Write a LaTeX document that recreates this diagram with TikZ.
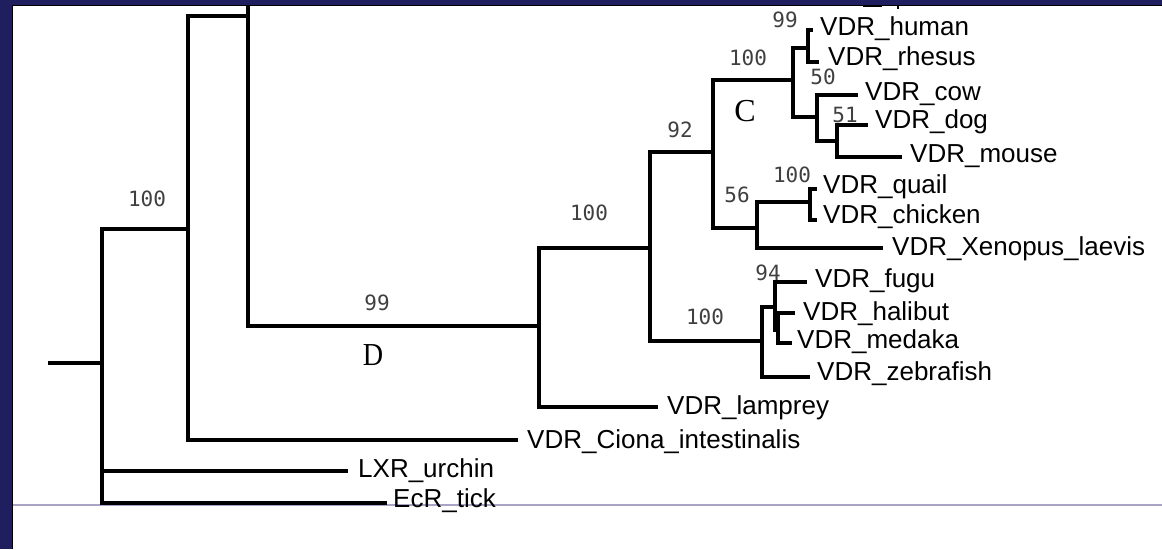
\documentclass[tikz,border=0pt]{standalone}
\usepackage{fontspec}
\setmainfont{Liberation Sans}
\newfontfamily\monofnt{DejaVu Sans Mono}
\newfontfamily\seriffnt{Liberation Serif}
\definecolor{navy}{HTML}{1F1E5E}
\definecolor{rulegrey}{HTML}{A9A3C6}
\tikzset{
  br/.style={line width=3.2pt, line join=miter, line cap=butt},
  leaf/.style={anchor=base west, inner sep=0pt, font=\fontsize{26}{30}\selectfont},
  boot/.style={anchor=center, inner sep=0pt, text=black!75, font=\monofnt\fontsize{21}{24}\selectfont},
  clade/.style={anchor=center, inner sep=0pt, font=\seriffnt\fontsize{32}{35}\selectfont},
}
\begin{document}
\begin{tikzpicture}[x=1pt,y=-1pt]
\useasboundingbox (0,0) rectangle (1162,549);
\fill[white] (0,0) rectangle (1162,549);
% frame
\fill[navy] (0,0) rectangle (12,549);
\fill[navy] (0,0) rectangle (1162,5);
\draw[black, line width=1pt] (12.5,5) -- (12.5,549);
\draw[black, line width=1pt] (12,5.5) -- (1162,5.5);
\draw[rulegrey, line width=1.2pt] (13,505) -- (1162,505);

% coordinates (x = branch position, y = incoming horizontal)
\coordinate (root) at (48,363);
\coordinate (n1) at (102,363);
\coordinate (n2) at (188,229);
\coordinate (lxr) at (348,471);
\coordinate (ecr) at (387,503);
\coordinate (n3) at (248,16);
\coordinate (n3top) at (248,5);
\coordinate (ciona) at (518,440);
\coordinate (n4) at (539,326);
\coordinate (n5) at (650,248);
\coordinate (lamprey) at (658,407);
\coordinate (n6) at (713,152);
\coordinate (n13) at (762,341);
\coordinate (n7) at (793,80);
\coordinate (n11) at (757,228);
\coordinate (n8) at (808,48);
\coordinate (n9) at (817,117);
\coordinate (human) at (813,30);
\coordinate (rhesus) at (819,62);
\coordinate (cow) at (858,95);
\coordinate (n10) at (837,141);
\coordinate (dog) at (868,125);
\coordinate (mouse) at (902,157);
\coordinate (n12) at (810,202);
\coordinate (xenopus) at (883,248);
\coordinate (quail) at (817,189);
\coordinate (chicken) at (817,220);
\coordinate (n14) at (775,307);
\coordinate (zebrafish) at (810,377);
\coordinate (fugu) at (807,282);
\coordinate (n15) at (778,330);
\coordinate (halibut) at (795,313);
\coordinate (medaka) at (792,343);

% branches
\draw[br] (root) -- (n1);
\draw[br] (n2) -| (n1) |- (ecr);
\draw[br] (n1 |- lxr) -- (lxr);
\draw[br] (n3) -| (n2) |- (ciona);
\draw[br] (n3top) |- (n4);
\draw[br] (n5) -| (n4) |- (lamprey);
\draw[br] (n6) -| (n5) |- (n13);
\draw[br] (n7) -| (n6) |- (n11);
\draw[br] (n8) -| (n7) |- (n9);
\draw[br] (human) -| (n8) |- (rhesus);
\draw[br] (cow) -| (n9) |- (n10);
\draw[br] (dog) -| (n10) |- (mouse);
\draw[br] (n12) -| (n11) |- (xenopus);
\draw[br] (quail) -| (n12) |- (chicken);
\draw[br] (n14) -| (n13) |- (zebrafish);
\draw[br] (fugu) -| (n14) |- (n15);
\draw[br] (halibut) -| (n15) |- (medaka);

% clipped fragments of a label above the frame
\draw[line width=1.6pt] (863,6.5) -- (882,6.5);
\draw[line width=1.6pt] (898,5) -- (898,9);

% leaf labels
\node[leaf] (tHuman) at (820,35) {VDR\_human};
\node[leaf] (tRhesus) at (828,65) {VDR\_rhesus};
\node[leaf] (tCow) at (865,100) {VDR\_cow};
\node[leaf] (tDog) at (875,128) {VDR\_dog};
\node[leaf] (tMouse) at (910,162) {VDR\_mouse};
\node[leaf] (tQuail) at (823,193) {VDR\_quail};
\node[leaf] (tChicken) at (823,223) {VDR\_chicken};
\node[leaf] (tXenopus) at (892,255) {VDR\_Xenopus\_laevis};
\node[leaf] (tFugu) at (815,287) {VDR\_fugu};
\node[leaf] (tHalibut) at (803,320) {VDR\_halibut};
\node[leaf] (tMedaka) at (797,348) {VDR\_medaka};
\node[leaf] (tZebra) at (817,380) {VDR\_zebrafish};
\node[leaf] (tLamprey) at (667,414) {VDR\_lamprey};
\node[leaf] (tCiona) at (527,448) {VDR\_Ciona\_intestinalis};
\node[leaf] (tLxr) at (358,477) {LXR\_urchin};
\node[leaf] (tEcr) at (393,507) {EcR\_tick};

% bootstrap values
\node[boot] (b1) at (147,199) {100};
\node[boot] (b2) at (377,303) {99};
\node[boot] (b3) at (589,213) {100};
\node[boot] (b4) at (680,130) {92};
\node[boot] (b5) at (748,58) {100};
\node[boot] (b6) at (785,20) {99};
\node[boot] (b7) at (823,77) {50};
\node[boot] (b8) at (845,115) {51};
\node[boot] (b9) at (737,195) {56};
\node[boot] (b10) at (792,175) {100};
\node[boot] (b11) at (705,317) {100};
\node[boot] (b12) at (768,273) {94};

% clade letters
\node[clade] (cC) at (745,111) {C};
\node[clade, xscale=0.88] (cD) at (373,355) {D};
\end{tikzpicture}
\end{document}
